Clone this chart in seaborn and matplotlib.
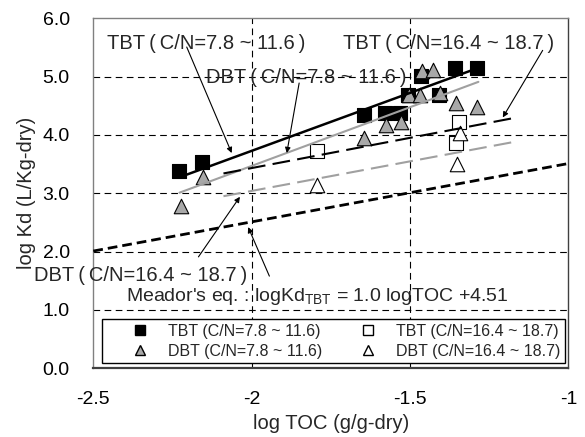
import numpy as np
import pandas as pd
import matplotlib
matplotlib.use("Agg")
import matplotlib.pyplot as plt
import seaborn as sns
from matplotlib.lines import Line2D

# ---- data ----
tbt_low_x = [-2.228, -2.156, -1.645, -1.579, -1.532, -1.505, -1.466, -1.407, -1.358, -1.289]
tbt_low_y = [3.38, 3.53, 4.34, 4.38, 4.37, 4.69, 5.01, 4.68, 5.15, 5.15]
dbt_low_x = [-2.224, -2.155, -1.645, -1.577, -1.529, -1.502, -1.468, -1.463, -1.426, -1.405, -1.356, -1.288]
dbt_low_y = [2.78, 3.28, 3.94, 4.17, 4.22, 4.68, 4.69, 5.09, 5.11, 4.72, 4.54, 4.48]
tbt_high_x = [-1.795, -1.345, -1.355]
tbt_high_y = [3.73, 4.23, 3.86]
dbt_high_x = [-1.795, -1.342, -1.351]
dbt_high_y = [3.14, 4.03, 3.51]

fit_tbt_low_x = [-2.210, -1.284]
fit_tbt_low_y = [3.31, 5.15]
fit_dbt_low_x = [-2.228, -1.284]
fit_dbt_low_y = [3.01, 4.91]
fit_tbt_high_x = [-2.089, -1.172]
fit_tbt_high_y = [3.34, 4.29]
fit_dbt_high_x = [-2.089, -1.172]
fit_dbt_high_y = [2.95, 3.88]
meador_x = [-2.5, -1.0]
meador_y = [2.01, 3.51]

x_ticks = [-2.5, -2.0, -1.5, -1.0]
x_ticklabels = ["-2.5", "-2", "-1.5", "-1"]
y_ticks = [0, 1, 2, 3, 4, 5, 6]
y_ticklabels = ["0.0", "1.0", "2.0", "3.0", "4.0", "5.0", "6.0"]

legend_labels = ["TBT (C/N=7.8 ~ 11.6)", "DBT (C/N=7.8 ~ 11.6)",
                 "TBT (C/N=16.4 ~ 18.7)", "DBT (C/N=16.4 ~ 18.7)"]

# ---- style ----
sns.set_theme(style="white")
plt.rcParams["font.family"] = ["Liberation Sans", "DejaVu Sans"]
plt.rcParams["axes.unicode_minus"] = False
plt.rcParams["mathtext.fontset"] = "custom"
plt.rcParams["mathtext.rm"] = "Liberation Sans"

fig = plt.figure(figsize=(5.85, 4.37), dpi=100)
ax = fig.add_axes([0.1595, 0.1572, 0.812, 0.801])

GRAY = "#a8a8a8"
LGRAY = "#a0a0a0"
ms = 95

sns.scatterplot(x=tbt_low_x, y=tbt_low_y, marker="s", s=ms, color="black",
                edgecolor="black", linewidth=0.8, ax=ax, zorder=3)
sns.scatterplot(x=dbt_low_x, y=dbt_low_y, marker="^", s=ms * 1.15, color=GRAY,
                edgecolor="black", linewidth=0.8, ax=ax, zorder=3)
sns.scatterplot(x=tbt_high_x, y=tbt_high_y, marker="s", s=ms, color="white",
                edgecolor="black", linewidth=0.8, ax=ax, zorder=3)
sns.scatterplot(x=dbt_high_x, y=dbt_high_y, marker="^", s=ms * 1.15, color="white",
                edgecolor="black", linewidth=0.8, ax=ax, zorder=3)

sns.lineplot(x=fit_tbt_low_x, y=fit_tbt_low_y, color="black", lw=1.8, ax=ax, zorder=4)
sns.lineplot(x=fit_dbt_low_x, y=fit_dbt_low_y, color=LGRAY, lw=1.5, ax=ax, zorder=4)
sns.lineplot(x=fit_tbt_high_x, y=fit_tbt_high_y, color="black", lw=1.5, ax=ax, zorder=4)
ax.lines[-1].set_dashes((8.5, 3.5))
sns.lineplot(x=fit_dbt_high_x, y=fit_dbt_high_y, color=LGRAY, lw=1.5, ax=ax, zorder=4)
ax.lines[-1].set_dashes((8.5, 3.5))
sns.lineplot(x=meador_x, y=meador_y, color="black", lw=2.0, ax=ax, zorder=4)
ax.lines[-1].set_dashes((3.5, 1.8))

ax.set_xlim(-2.5, -1.0)
ax.set_ylim(0, 6)
ax.set_xticks(x_ticks)
ax.set_xticklabels(x_ticklabels)
ax.set_yticks(y_ticks)
ax.set_yticklabels(y_ticklabels)
ax.tick_params(axis="both", length=0, labelsize=14, colors="black")
ax.tick_params(axis="x", pad=16)
ax.tick_params(axis="y", pad=17)
ax.set_xlabel("log TOC (g/g-dry)", fontsize=14.5, labelpad=5)
ax.set_ylabel("log Kd (L/Kg-dry)", fontsize=14.5, labelpad=5)

# grid: dashed
for gx in [-2.0, -1.5]:
    ax.axvline(gx, color="black", lw=0.8, ls=(0, (6, 4)), zorder=1)
for gy in [1, 2, 3, 4, 5]:
    ax.axhline(gy, color="black", lw=0.8, ls=(0, (6, 4)), zorder=1)

for side in ["left", "top"]:
    ax.spines[side].set_color("#808080")
    ax.spines[side].set_linewidth(1.0)
ax.spines["right"].set_color("#404040")
ax.spines["right"].set_linewidth(1.0)
ax.spines["bottom"].set_color("#404040")
ax.spines["bottom"].set_linewidth(1.6)

# annotations
fs = 14.5
T = "\u2009"
ax.text(-2.144, 5.565, f"TBT{T}({T}C/N=7.8 ~ 11.6{T})", ha="center", va="center", fontsize=fs, zorder=5)
ax.text(-1.826, 4.98, f"DBT{T}({T}C/N=7.8 ~ 11.6{T})", ha="center", va="center", fontsize=fs, zorder=5)
ax.text(-1.378, 5.565, f"TBT{T}({T}C/N=16.4 ~ 18.7{T})", ha="center", va="center", fontsize=fs, zorder=5)
ax.text(-2.350, 1.598, f"DBT{T}({T}C/N=16.4 ~ 18.7{T})", ha="center", va="center", fontsize=fs, zorder=5, clip_on=False)
ax.text(-1.792, 1.226, r"Meador's eq. : logKd$_{\mathregular{TBT}}$ = 1.0 logTOC +4.51",
        ha="center", va="center", fontsize=14, zorder=5)

arrows = [((-2.205, 5.507), (-2.063, 3.69)),
          ((-1.850, 4.89), (-1.889, 3.69)),
          ((-1.081, 5.45), (-1.207, 4.30)),
          ((-2.168, 1.91), (-2.037, 2.94)),
          ((-1.944, 1.58), (-2.011, 2.42))]
for start, end in arrows:
    ax.annotate("", xy=end, xytext=start,
                arrowprops=dict(arrowstyle="-|>", color="black", lw=0.8,
                                mutation_scale=8, shrinkA=0, shrinkB=0), zorder=5)

handles = [
    Line2D([], [], marker="s", ls="none", markersize=6.5, markerfacecolor="black", markeredgecolor="black"),
    Line2D([], [], marker="^", ls="none", markersize=7.5, markerfacecolor=GRAY, markeredgecolor="black"),
    Line2D([], [], marker="s", ls="none", markersize=6.5, markerfacecolor="white", markeredgecolor="black"),
    Line2D([], [], marker="^", ls="none", markersize=7.5, markerfacecolor="white", markeredgecolor="black"),
]
leg = ax.legend(handles, legend_labels, ncol=2, loc="lower left",
                bbox_to_anchor=(0.018, 0.014, 0.975, 0.124), mode="expand",
                borderaxespad=0.0,
                fontsize=11.5, frameon=True, fancybox=False, framealpha=1,
                edgecolor="black", borderpad=0.3, labelspacing=0.3,
                handletextpad=-0.35, columnspacing=1.0, handlelength=4.2)
leg.get_frame().set_linewidth(1.0)
leg.set_zorder(6)

fig.savefig("out.png", dpi=100)
